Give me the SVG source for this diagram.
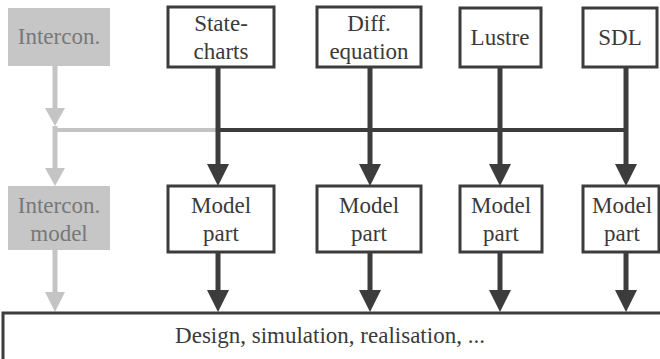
<svg xmlns="http://www.w3.org/2000/svg" width="660" height="359" viewBox="0 0 660 359">
  <style>
    .box { fill: #ffffff; stroke: #3c3c3c; stroke-width: 3; }
    .gbox { fill: #c6c6c6; stroke: none; }
    .t { font-family: 'Liberation Serif', 'DejaVu Serif', 'Times New Roman', serif; font-size: 23px; fill: #3a3a3a; text-anchor: middle; }
    .gt { fill: #787878; }
    .dark { stroke: #3c3c3c; stroke-width: 5; fill: none; }
    .light { stroke: #c4c4c4; stroke-width: 5; fill: none; }
    .hd { fill: #3c3c3c; }
    .hl { fill: #c4c4c4; }
  </style>

  <g id="connectors">
    <!-- light interconnection path -->
    <line class="light" x1="55" y1="66" x2="55" y2="110"/>
    <polygon class="hl" points="45,108 65,108 55,126"/>
    <line class="light" x1="55" y1="130" x2="218" y2="130" style="stroke-width:4"/>
    <line class="light" x1="55" y1="126" x2="55" y2="170"/>
    <polygon class="hl" points="45,168 65,168 55,186"/>
    <line class="light" x1="55" y1="250" x2="55" y2="294"/>
    <polygon class="hl" points="45,292 65,292 55,312"/>
    <!-- dark bus -->
    <line class="dark" x1="218" y1="130" x2="626" y2="130" style="stroke-width:4"/>
    <!-- source to model part -->
    <line class="dark" x1="218" y1="67" x2="218" y2="166"/>
    <polygon class="hd" points="207,164 229,164 218,186"/>
    <line class="dark" x1="370" y1="67" x2="370" y2="166"/>
    <polygon class="hd" points="359,164 381,164 370,186"/>
    <line class="dark" x1="500" y1="67" x2="500" y2="166"/>
    <polygon class="hd" points="489,164 511,164 500,186"/>
    <line class="dark" x1="626" y1="67" x2="626" y2="166"/>
    <polygon class="hd" points="615,164 637,164 626,186"/>
    <!-- model part to design -->
    <line class="dark" x1="218" y1="252" x2="218" y2="292"/>
    <polygon class="hd" points="207,290 229,290 218,312"/>
    <line class="dark" x1="370" y1="252" x2="370" y2="292"/>
    <polygon class="hd" points="359,290 381,290 370,312"/>
    <line class="dark" x1="500" y1="252" x2="500" y2="292"/>
    <polygon class="hd" points="489,290 511,290 500,312"/>
    <line class="dark" x1="626" y1="252" x2="626" y2="292"/>
    <polygon class="hd" points="615,290 637,290 626,312"/>
  </g>

  <g id="intercon">
    <rect class="gbox" x="8" y="8" width="102" height="58"/>
    <text class="t gt" x="59" y="44" font-family="Liberation Serif, serif">Intercon.</text>
  </g>
  <g id="statecharts">
    <rect class="box" x="168" y="7" width="106" height="60"/>
    <text class="t" x="221" y="31">State-</text>
    <text class="t" x="221" y="59">charts</text>
  </g>
  <g id="diffeq">
    <rect class="box" x="317" y="7" width="104" height="60"/>
    <text class="t" x="369" y="31">Diff.</text>
    <text class="t" x="369" y="59">equation</text>
  </g>
  <g id="lustre">
    <rect class="box" x="460" y="8" width="81" height="59"/>
    <text class="t" x="500" y="45">Lustre</text>
  </g>
  <g id="sdl">
    <rect class="box" x="583" y="8" width="74" height="59"/>
    <text class="t" x="620" y="45">SDL</text>
  </g>

  <g id="intercon-model">
    <rect class="gbox" x="8" y="186" width="102" height="64"/>
    <text class="t gt" x="59" y="213">Intercon.</text>
    <text class="t gt" x="59" y="241">model</text>
  </g>
  <g id="part-statecharts">
    <rect class="box" x="168" y="186" width="106" height="66"/>
    <text class="t" x="221" y="213">Model</text>
    <text class="t" x="221" y="241">part</text>
  </g>
  <g id="part-diffeq">
    <rect class="box" x="317" y="186" width="104" height="66"/>
    <text class="t" x="369" y="213">Model</text>
    <text class="t" x="369" y="241">part</text>
  </g>
  <g id="part-lustre">
    <rect class="box" x="460" y="186" width="82" height="66"/>
    <text class="t" x="501" y="213">Model</text>
    <text class="t" x="501" y="241">part</text>
  </g>
  <g id="part-sdl">
    <rect class="box" x="583" y="186" width="76" height="66"/>
    <text class="t" x="622" y="213">Model</text>
    <text class="t" x="622" y="241">part</text>
  </g>

  <g id="design">
    <rect class="box" x="3" y="313" width="660" height="48"/>
    <text class="t" x="330" y="343">Design, simulation, realisation, ...</text>
  </g>
</svg>
